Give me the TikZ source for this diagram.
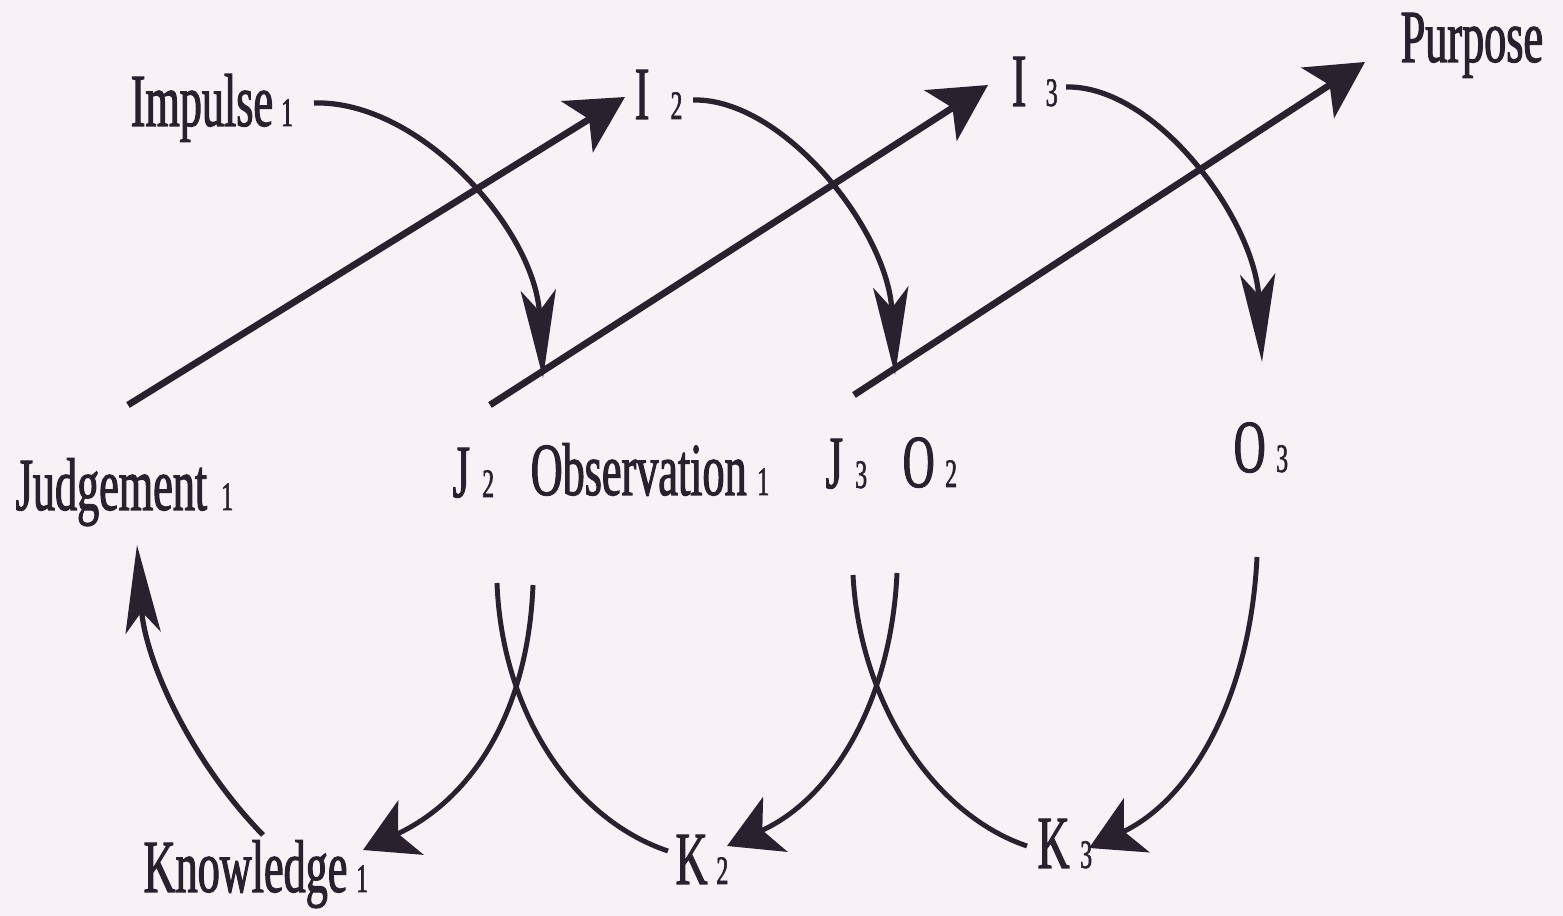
\documentclass[tikz,border=0pt]{standalone}
\usepackage{fontspec}
\setmainfont{Liberation Serif}[FakeStretch=0.59,FakeBold=1.4]
\usetikzlibrary{arrows.meta}
\definecolor{ink}{RGB}{42,32,46}
\definecolor{paper}{RGB}{248,242,247}
\newcommand\sbs[2][4pt]{\hspace{#1}{\fontsize{11.5}{12}\selectfont #2}}
\begin{document}
\begin{tikzpicture}[x=0.01cm,y=-0.01cm,
  lbl/.style={anchor=base west, inner sep=0pt, text=ink, font=\fontsize{21.3}{24}\selectfont},
  strline/.style={draw=ink, line width=1.9pt, -{Stealth[length=16pt,width=17pt,inset=4pt]}},
  dncurve/.style={draw=ink, line width=1.5pt, -{Stealth[length=25pt,width=10pt,inset=6pt]}},
  kcurve/.style={draw=ink, line width=1.4pt, -{Stealth[length=15pt,width=17pt,inset=4pt]}},
  plaincurve/.style={draw=ink, line width=1.4pt}]
\fill[paper] (0,0) rectangle (1563,916);
\useasboundingbox (0,0) rectangle (1563,916);

% labels
\node[lbl] (imp)  at (130,126)  {Impulse\sbs[2.3pt]{1}};
\node[lbl] (i2)   at (634,119)  {I\sbs[6pt]{2}};
\node[lbl] (i3)   at (1011,106) {I\sbs[5.5pt]{3}};
\node[lbl] (purp) at (1400,62)  {Purpose};
\node[lbl] (judg) at (15,510)   {Judgement\sbs[4pt]{1}};
\node[lbl] (j2)   at (452,497)  {J\sbs[3.5pt]{2}};
\node[lbl] (obs)  at (530,495)  {Observation\sbs[3pt]{1}};
\node[lbl] (j3)   at (825,488)  {J\sbs[3.5pt]{3}};
\node[lbl] (o2)   at (902,487)  {O\sbs[3pt]{2}};
\node[lbl] (o3)   at (1233,472) {O\sbs[3pt]{3}};
\node[lbl] (know) at (143,892)  {Knowledge\sbs[2.5pt]{1}};
\node[lbl] (k2)   at (675,884)  {K\sbs[2.5pt]{2}};
\node[lbl] (k3)   at (1037,868) {K\sbs[3pt]{3}};

% connector end points
\coordinate (l1s) at (128,405);  \coordinate (l1e) at (625,97);
\coordinate (l2s) at (490,405);  \coordinate (l2e) at (988,85);
\coordinate (l3s) at (854,395);  \coordinate (l3e) at (1365,62);
\coordinate (t1s) at (314,103);  \coordinate (t1e) at (543,378);
\coordinate (t2s) at (693,100);  \coordinate (t2e) at (895,375);
\coordinate (t3s) at (1066,87);  \coordinate (t3e) at (1262,362);
\coordinate (us)  at (263,835);  \coordinate (ue)  at (137,545);
\coordinate (as)  at (533,585);  \coordinate (ae)  at (363,850);
\coordinate (bs)  at (497,583);  \coordinate (be)  at (668,851);
\coordinate (cs)  at (897,573);  \coordinate (ce)  at (727,846);
\coordinate (ds)  at (853,575);  \coordinate (de)  at (1027,846);
\coordinate (es)  at (1257,557); \coordinate (ee)  at (1089,848);

% straight arrows
\draw[strline] (l1s) -- (l1e);
\draw[strline] (l2s) -- (l2e);
\draw[strline] (l3s) -- (l3e);

% downward curved arrows
\draw[dncurve] (t1s) .. controls (420,100) and (535,230) .. (t1e);
\draw[dncurve] (t2s) .. controls (783,98) and (888,230) .. (t2e);
\draw[dncurve] (t3s) .. controls (1156,85) and (1255,220) .. (t3e);

% Knowledge -> Judgement
\draw[dncurve] (us) .. controls (190,760) and (145,660) .. (ue);

% lower crossings
\draw[kcurve] (as) .. controls (528,715) and (470,800) .. (ae);
\draw[plaincurve] (bs) .. controls (502,715) and (575,820) .. (be);
\draw[kcurve] (cs) .. controls (891,705) and (830,800) .. (ce);
\draw[plaincurve] (ds) .. controls (860,705) and (935,815) .. (de);
\draw[kcurve] (es) .. controls (1250,700) and (1190,800) .. (ee);
\end{tikzpicture}
\end{document}
